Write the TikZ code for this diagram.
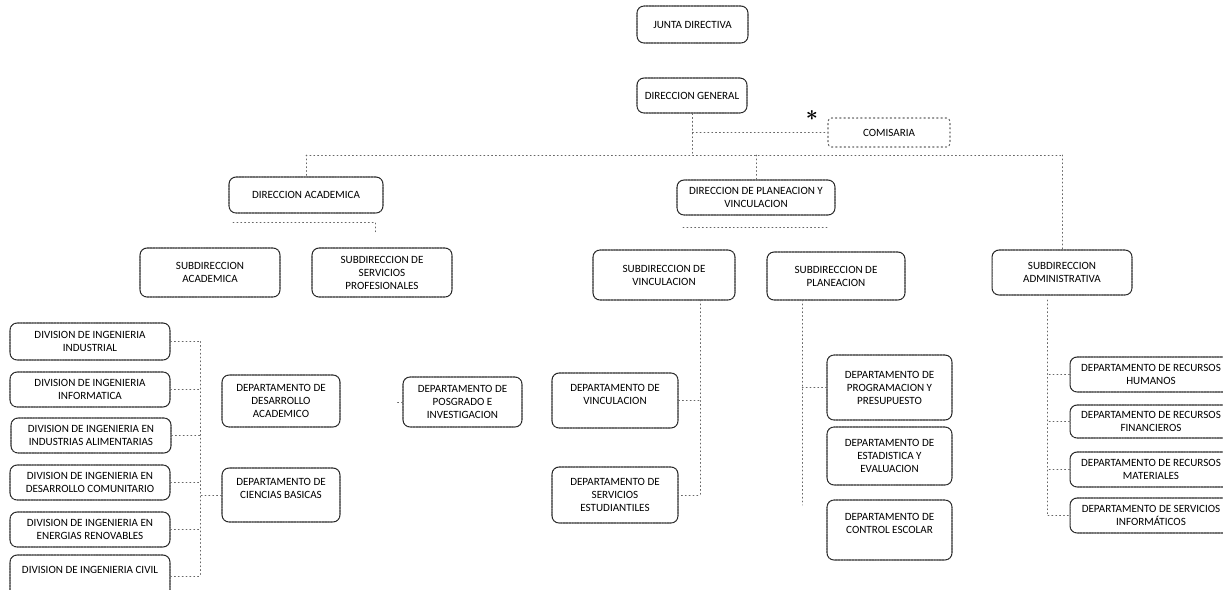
\documentclass[tikz,border=0pt]{standalone}
\usepackage{fontspec}
\setmainfont{Carlito}
\usetikzlibrary{positioning}

\tikzset{
  orgbox/.style={draw=black!85, line width=0.6pt, dash pattern=on 1.2pt off 0.4pt,
    rounded corners=4pt, align=center, inner sep=0pt, font=\fontsize{6.3}{7.4}\selectfont},
  comisbox/.style={orgbox, draw=black!60, dash pattern=on 0.8pt off 1.6pt, rounded corners=2pt},
  link/.style={draw=black!60, line width=0.4pt, dash pattern=on 0.6pt off 1.6pt}
}

\begin{document}
\begin{tikzpicture}[x=0.02cm,y=-0.02cm,line cap=round,line join=round]
	\useasboundingbox (0,0) rectangle (1223,589);
	\clip (0,0) rectangle (1223,589);
	% direccion
	\node[orgbox, minimum width=2.22cm, minimum height=0.74cm] (junta) at (692.5,24.5) {JUNTA DIRECTIVA};
	\node[orgbox, minimum width=2.2cm, minimum height=0.7cm] (dgeneral) at (692,95.5) {DIRECCION GENERAL};
	\node[comisbox, minimum width=2.44cm, minimum height=0.58cm] (comisaria) at (889,132.5) {COMISARIA};
	\node[inner sep=0pt, font=\large\boldmath] (marca) at (812,116) {$\ast$};
	\node[orgbox, minimum width=3.08cm, minimum height=0.72cm] (dacad) at (306,195) {DIRECCION ACADEMICA};
	\node[orgbox, minimum width=3.16cm, minimum height=0.7cm] (dplan) at (756,197.5) {DIRECCION DE PLANEACION Y\\VINCULACION};
	% subdirecciones
	\node[orgbox, minimum width=2.8cm, minimum height=0.98cm] (subacad) at (210,272.5) {SUBDIRECCION\\ACADEMICA};
	\node[orgbox, minimum width=2.8cm, minimum height=0.98cm] (subserv) at (382,272.5) {SUBDIRECCION DE\\SERVICIOS\\PROFESIONALES};
	\node[orgbox, minimum width=2.84cm, minimum height=1.0cm] (subvinc) at (664,275) {SUBDIRECCION DE\\VINCULACION};
	\node[orgbox, minimum width=2.76cm, minimum height=0.96cm] (subplan) at (836,276) {SUBDIRECCION DE\\PLANEACION};
	\node[orgbox, minimum width=2.8cm, minimum height=0.9cm] (subadmin) at (1062,272.5) {SUBDIRECCION\\ADMINISTRATIVA};
	% divisiones
	\node[orgbox, minimum width=3.2cm, minimum height=0.74cm] (industrial) at (90,341.5) {DIVISION DE INGENIERIA\\INDUSTRIAL};
	\node[orgbox, minimum width=3.2cm, minimum height=0.7cm] (informatica) at (90,389.5) {DIVISION DE INGENIERIA\\INFORMATICA};
	\node[orgbox, minimum width=3.2cm, minimum height=0.7cm] (alimentarias) at (91,435.5) {DIVISION DE INGENIERIA EN\\INDUSTRIAS ALIMENTARIAS};
	\node[orgbox, minimum width=3.2cm, minimum height=0.7cm] (comunitario) at (90,482.5) {DIVISION DE INGENIERIA EN\\DESARROLLO COMUNITARIO};
	\node[orgbox, minimum width=3.2cm, minimum height=0.7cm] (renovables) at (90,529.5) {DIVISION DE INGENIERIA EN\\ENERGIAS RENOVABLES};
	\node[orgbox, minimum width=3.2cm, minimum height=0.86cm] (civil) at (90,576.5) {DIVISION DE INGENIERIA CIVIL\\\phantom{X}};
	% departamentos
	\node[orgbox, minimum width=2.36cm, minimum height=1.04cm] (desacad) at (281,401) {DEPARTAMENTO DE\\DESARROLLO\\ACADEMICO};
	\node[orgbox, minimum width=2.36cm, minimum height=1.08cm] (cbasicas) at (281,495) {DEPARTAMENTO DE\\CIENCIAS BASICAS\\\phantom{X}};
	\node[orgbox, minimum width=2.38cm, minimum height=1.0cm] (posgrado) at (462.5,402) {DEPARTAMENTO DE\\POSGRADO E\\INVESTIGACION};
	\node[orgbox, minimum width=2.52cm, minimum height=1.1cm] (dvinc) at (615,400.5) {DEPARTAMENTO DE\\VINCULACION\\\phantom{X}};
	\node[orgbox, minimum width=2.52cm, minimum height=1.12cm] (servest) at (615,495) {DEPARTAMENTO DE\\SERVICIOS\\ESTUDIANTILES};
	\node[orgbox, minimum width=2.5cm, minimum height=1.3cm] (progpres) at (889.5,387.5) {DEPARTAMENTO DE\\PROGRAMACION Y\\PRESUPUESTO};
	\node[orgbox, minimum width=2.5cm, minimum height=1.16cm] (estadist) at (889.5,456) {DEPARTAMENTO DE\\ESTADISTICA Y\\EVALUACION};
	\node[orgbox, minimum width=2.5cm, minimum height=1.2cm] (ctrlesc) at (889.5,530) {DEPARTAMENTO DE\\CONTROL ESCOLAR\\\phantom{X}};
	\node[orgbox, minimum width=3.24cm, minimum height=0.7cm] (humanos) at (1151,374.5) {DEPARTAMENTO DE RECURSOS\\HUMANOS};
	\node[orgbox, minimum width=3.24cm, minimum height=0.66cm] (financieros) at (1151,421.5) {DEPARTAMENTO DE RECURSOS\\FINANCIEROS};
	\node[orgbox, minimum width=3.24cm, minimum height=0.7cm] (materiales) at (1151,469.5) {DEPARTAMENTO DE RECURSOS\\MATERIALES};
	\node[orgbox, minimum width=3.24cm, minimum height=0.7cm] (infor) at (1151,515.5) {DEPARTAMENTO DE SERVICIOS\\INFORMÁTICOS};
	% lineas
	\coordinate (bus-w) at (306,155);
	\coordinate (bus-e) at (1062,155);
	\draw[link] (bus-w) -- (bus-e);
	\draw[link] (dgeneral.south) -- (dgeneral.south |- bus-w);
	\draw[link] (dgeneral.south) |- (comisaria.west);
	\draw[link] (bus-w) -- (dacad.north);
	\draw[link] (dplan.north |- bus-w) -- (dplan.north);
	\draw[link] (bus-e) -- (subadmin.north);
	\coordinate (acad-l) at (233,222);
	\coordinate (acad-r) at (375,222);
	\draw[link] (acad-l) -- (acad-r) -- ++(0,10);
	\coordinate (plan-l) at (683,227);
	\coordinate (plan-r) at (827,227);
	\draw[link] (plan-l) -- (plan-r);
	\coordinate (div-top) at (200,341.5);
	\draw[link] (div-top) -- (civil.east -| div-top);
	\foreach \d in {industrial,informatica,alimentarias,comunitario,renovables,civil}
		\draw[link] (\d.east) -- (\d.east -| div-top);
	\draw[link] (cbasicas.west) -- (cbasicas.west -| div-top);
	\draw[link] (posgrado.west) -- ++(-6,0);
	\coordinate (vinc-top) at (700,300);
	\draw[link] (vinc-top) |- (servest.east);
	\draw[link] (dvinc.east) -- (dvinc.east -| vinc-top);
	\coordinate (plan-top) at (802,300);
	\draw[link] (plan-top) -- (802,505);
	\draw[link] (progpres.west) -- (progpres.west -| plan-top);
	\coordinate (admin-top) at (1047,300);
	\draw[link] (admin-top) |- (infor.west);
	\foreach \d in {humanos,financieros,materiales}
		\draw[link] (\d.west) -- (\d.west -| admin-top);
\end{tikzpicture}
\end{document}
